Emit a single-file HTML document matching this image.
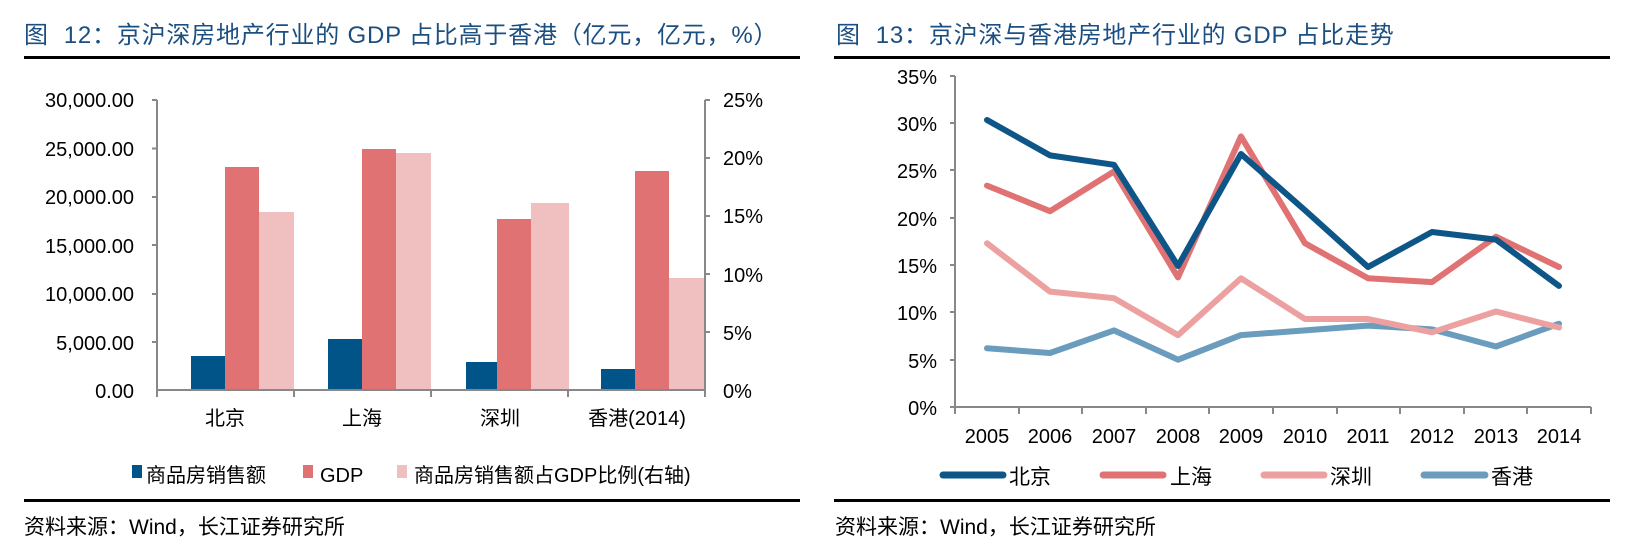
<!DOCTYPE html>
<html><head><meta charset="utf-8"><style>
body{margin:0;background:#fff;}
svg text{font-family:"Liberation Sans","Noto Sans CJK SC",sans-serif;}
</style></head><body>
<svg width="1625" height="545" viewBox="0 0 1625 545" xmlns="http://www.w3.org/2000/svg">
<!-- LEFT -->
<text x="24" y="43" font-size="24" letter-spacing="0.8" fill="#1b4f82" xml:space="preserve">图  12：京沪深房地产行业的 GDP 占比高于香港（亿元，亿元，%）</text>
<rect x="24" y="56" width="776" height="3" fill="#000"/>
<g font-size="20" fill="#000" text-anchor="end">
<text x="134" y="107">30,000.00</text>
<text x="134" y="156">25,000.00</text>
<text x="134" y="204">20,000.00</text>
<text x="134" y="253">15,000.00</text>
<text x="134" y="301">10,000.00</text>
<text x="134" y="350">5,000.00</text>
<text x="134" y="398">0.00</text>
</g>
<g font-size="20" fill="#000">
<text x="723" y="107">25%</text>
<text x="723" y="165">20%</text>
<text x="723" y="223">15%</text>
<text x="723" y="282">10%</text>
<text x="723" y="340">5%</text>
<text x="723" y="398">0%</text>
</g>
<g stroke="#888" stroke-width="2" fill="none">
<path d="M157 100V390M152 100H157M152 148.5H157M152 197H157M152 245H157M152 294H157M152 342H157"/>
<path d="M705 100V390M705 100H710M705 158H710M705 216H710M705 274H710M705 332H710"/>
</g>
<g>
<rect x="191" y="356" width="34" height="34" fill="#005488"/>
<rect x="225" y="167" width="34" height="223" fill="#e07273"/>
<rect x="259" y="212" width="35" height="178" fill="#f0bfbf"/>
<rect x="328" y="339" width="34" height="51" fill="#005488"/>
<rect x="362" y="149" width="34" height="241" fill="#e07273"/>
<rect x="396" y="153" width="35" height="237" fill="#f0bfbf"/>
<rect x="466" y="362" width="31" height="28" fill="#005488"/>
<rect x="497" y="219" width="34" height="171" fill="#e07273"/>
<rect x="531" y="203" width="38" height="187" fill="#f0bfbf"/>
<rect x="601" y="369" width="34" height="21" fill="#005488"/>
<rect x="635" y="171" width="34" height="219" fill="#e07273"/>
<rect x="669" y="278" width="35" height="112" fill="#f0bfbf"/>
</g>
<g stroke="#888" stroke-width="2"><path d="M157 390H705M157 390V397M294 390V397M431 390V397M568 390V397M705 390V397"/></g>
<g font-size="20" fill="#000" text-anchor="middle">
<text x="225" y="425">北京</text><text x="362" y="425">上海</text><text x="500" y="425">深圳</text><text x="637" y="425">香港(2014)</text>
</g>
<rect x="132" y="465" width="10" height="13" fill="#005488"/>
<text x="146" y="482" font-size="20">商品房销售额</text>
<rect x="303" y="465" width="10" height="13" fill="#e07273"/>
<text x="320" y="482" font-size="20">GDP</text>
<rect x="397" y="465" width="10" height="13" fill="#f0bfbf"/>
<text x="414" y="482" font-size="20">商品房销售额占GDP比例(右轴)</text>
<rect x="24" y="499" width="776" height="3" fill="#000"/>
<text x="24" y="534" font-size="21" fill="#000">资料来源：Wind，长江证券研究所</text>

<!-- RIGHT -->
<text x="836" y="43" font-size="24" letter-spacing="0.8" fill="#1b4f82" xml:space="preserve">图  13：京沪深与香港房地产行业的 GDP 占比走势</text>
<rect x="834" y="56" width="776" height="3" fill="#000"/>
<g font-size="20" fill="#000" text-anchor="end">
<text x="937" y="84">35%</text><text x="937" y="131">30%</text><text x="937" y="178">25%</text>
<text x="937" y="226">20%</text><text x="937" y="273">15%</text><text x="937" y="320">10%</text>
<text x="937" y="368">5%</text><text x="937" y="415">0%</text>
</g>
<g stroke="#888" stroke-width="2" fill="none">
<path d="M955 76V407M950 76H955M950 123H955M950 170H955M950 218H955M950 265H955M950 312H955M950 360H955"/>
<path d="M950 407H1591"/>
<path d="M955 407V414M1019 407V414M1082 407V414M1146 407V414M1209 407V414M1273 407V414M1337 407V414M1400 407V414M1464 407V414M1527 407V414M1591 407V414"/>
</g>
<g font-size="20" fill="#000" text-anchor="middle">
<text x="987" y="443">2005</text><text x="1050" y="443">2006</text><text x="1114" y="443">2007</text><text x="1178" y="443">2008</text><text x="1241" y="443">2009</text><text x="1305" y="443">2010</text><text x="1368" y="443">2011</text><text x="1432" y="443">2012</text><text x="1496" y="443">2013</text><text x="1559" y="443">2014</text>
</g>
<g fill="none" stroke-width="6" stroke-linejoin="round" stroke-linecap="round">
<polyline stroke="#6a9cbd" points="987,348.3 1050,353 1114,330.4 1178,359.7 1241,335.1 1305,330.4 1368,325.6 1432,329.4 1496,346.5 1559,323.7"/>
<polyline stroke="#eda0a0" points="987,243.3 1050,291.6 1114,298.2 1178,335.1 1241,278.3 1305,319 1368,319 1432,332.3 1496,311.5 1559,327.5"/>
<polyline stroke="#e07273" points="987,185.6 1050,211.2 1114,171.4 1178,277.4 1241,136.4 1305,243.3 1368,278.3 1432,282.1 1496,236.7 1559,267"/>
<polyline stroke="#0d5687" points="987,120 1050,155.4 1114,164.8 1178,266 1241,154 1305,210.2 1368,267 1432,232 1496,239.6 1559,285.9"/>
</g>
<g stroke-width="7" stroke-linecap="round">
<line x1="943" y1="475" x2="1003" y2="475" stroke="#0d5687"/>
<line x1="1103" y1="475" x2="1163" y2="475" stroke="#e07273"/>
<line x1="1264" y1="475" x2="1324" y2="475" stroke="#eda0a0"/>
<line x1="1424" y1="475" x2="1485" y2="475" stroke="#6a9cbd"/>
</g>
<g font-size="21" fill="#000">
<text x="1009" y="484">北京</text><text x="1170" y="484">上海</text><text x="1330" y="484">深圳</text><text x="1491" y="484">香港</text>
</g>
<rect x="834" y="499" width="776" height="3" fill="#000"/>
<text x="835" y="534" font-size="21" fill="#000">资料来源：Wind，长江证券研究所</text>
</svg>
</body></html>
